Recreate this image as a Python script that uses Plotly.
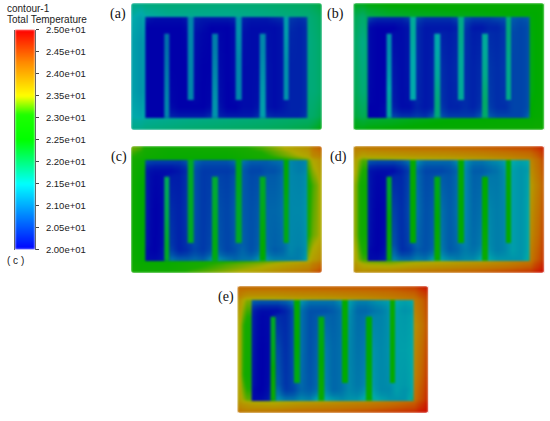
import plotly.graph_objects as go

WIDTH = 550
HEIGHT = 421

# colour bar
BAR_TICKS = [20.0, 20.5, 21.0, 21.5, 22.0, 22.5, 23.0, 23.5, 24.0, 24.5, 25.0]
BAR_LABELS = ["2.00e+01", "2.05e+01", "2.10e+01", "2.15e+01", "2.20e+01", "2.25e+01",
              "2.30e+01", "2.35e+01", "2.40e+01", "2.45e+01", "2.50e+01"]
BAR_SCALE = [[0, "rgb(0,0,255)"], [0.3, "rgb(0,255,255)"], [0.46, "rgb(0,255,50)"],
             [0.5, "rgb(0,255,0)"], [0.615, "rgb(30,255,0)"], [0.7, "rgb(255,255,0)"],
             [0.85, "rgb(255,140,0)"], [1, "rgb(255,0,0)"]]
# the panels are the same scale, shaded darker by the lighting of the render
PANEL_SCALE = [[0, "rgb(0,0,170)"], [0.3, "rgb(0,170,170)"], [0.46, "rgb(0,170,35)"],
               [0.5, "rgb(0,170,0)"], [0.615, "rgb(25,170,0)"], [0.7, "rgb(175,170,0)"],
               [0.85, "rgb(195,105,0)"], [1, "rgb(205,15,0)"]]

# cell edges, plate pixels from the top left corner
PLATE_X = [0, 5, 14, 60, 130, 177, 186, 191]
PLATE_Y = [0, 5, 14, 64, 113, 122, 127]
CHANNEL_X = [14.3, 18.5, 29, 36, 43, 52.5, 59.7, 67, 76.5, 83.8, 91, 100.5, 107.7,
             115, 124.5, 131.5, 138.5, 148.5, 155.3, 162, 172, 176]
CHANNEL_Y = [14, 19, 30, 98, 109, 114.7]
RIB_X = [[33.3, 38.7], [56.7, 62.7], [81, 86.7], [104.7, 110.7], [128.7, 134.3], [152.7, 158]]
RIB_Y = [[30.7, 60, 85, 114.7], [14, 45, 70, 97.3]]

PANELS = ["(a)", "(b)", "(c)", "(d)", "(e)"]

plate_a = [[21.7, 21.7, 21.8, 21.8, 21.9, 22.0, 22.1],
           [21.6, 21.5, 21.7, 21.7, 21.8, 21.9, 22.0],
           [21.4, 21.3, 21.5, 21.6, 21.7, 21.8, 21.9],
           [21.4, 21.3, 21.5, 21.6, 21.8, 21.8, 21.9],
           [21.6, 21.6, 21.7, 21.8, 21.9, 22.0, 22.2],
           [21.7, 21.7, 21.8, 21.9, 22.0, 22.2, 22.4]]
plate_b = [[22.3, 22.3, 22.5, 22.6, 22.6, 22.6, 22.6],
           [22.1, 22.0, 22.3, 22.4, 22.5, 22.5, 22.6],
           [21.9, 21.7, 22.0, 22.2, 22.3, 22.5, 22.6],
           [22.0, 21.8, 22.0, 22.2, 22.3, 22.5, 22.6],
           [22.3, 22.2, 22.3, 22.5, 22.6, 22.7, 22.7],
           [22.4, 22.4, 22.5, 22.6, 22.7, 22.8, 22.8]]
plate_c = [[23.3, 23.2, 22.8, 22.9, 23.5, 24.1, 24.3],
           [23.1, 23.0, 22.7, 22.7, 23.3, 23.9, 24.0],
           [22.8, 22.5, 22.5, 22.5, 22.7, 23.2, 23.5],
           [22.7, 22.5, 22.5, 22.6, 22.8, 23.3, 23.5],
           [22.8, 22.7, 22.7, 23.2, 23.6, 24.0, 24.2],
           [22.9, 22.8, 22.9, 23.4, 23.9, 24.3, 24.5]]
plate_d = [[24.0, 24.0, 24.1, 24.2, 24.4, 24.6, 24.8],
           [23.8, 23.6, 23.7, 23.8, 24.0, 24.3, 24.6],
           [23.4, 22.8, 22.9, 23.1, 23.4, 23.9, 24.3],
           [23.4, 22.8, 22.9, 23.1, 23.6, 24.1, 24.5],
           [23.7, 23.5, 23.4, 23.7, 24.0, 24.5, 24.8],
           [23.9, 23.8, 23.9, 24.2, 24.5, 24.8, 25.0]]
plate_e = [[24.2, 24.2, 24.2, 24.3, 24.4, 24.7, 24.9],
           [24.0, 23.8, 23.8, 23.9, 24.1, 24.4, 24.6],
           [23.5, 22.9, 23.0, 23.2, 23.6, 24.0, 24.4],
           [23.5, 22.8, 23.0, 23.2, 23.7, 24.2, 24.6],
           [23.8, 23.7, 23.6, 23.9, 24.2, 24.6, 24.9],
           [24.1, 24.0, 24.1, 24.3, 24.6, 24.9, 25.0]]

# seven legs of three cells each, five rows from the top
channel_a = [[20.2, 20.1, 20.1, 20.1, 20.1, 20.2, 20.3, 20.2, 20.2, 20.2, 20.2, 20.3, 20.3, 20.2, 20.2, 20.2, 20.3, 20.4, 20.5, 20.4, 20.5],
             [20.0, 20.0, 20.0, 20.0, 20.0, 20.1, 20.2, 20.1, 20.0, 20.0, 20.0, 20.1, 20.2, 20.1, 20.1, 20.1, 20.1, 20.2, 20.4, 20.3, 20.4],
             [20.0, 20.0, 20.0, 20.0, 20.0, 20.0, 20.1, 20.0, 20.0, 20.1, 20.0, 20.1, 20.1, 20.1, 20.1, 20.2, 20.1, 20.2, 20.3, 20.3, 20.4],
             [20.0, 20.0, 20.0, 20.1, 20.0, 20.0, 20.0, 20.0, 20.1, 20.2, 20.0, 20.0, 20.1, 20.1, 20.2, 20.2, 20.1, 20.2, 20.3, 20.3, 20.4],
             [20.0, 20.0, 20.0, 20.3, 20.2, 20.2, 20.2, 20.2, 20.4, 20.3, 20.2, 20.2, 20.2, 20.2, 20.4, 20.4, 20.3, 20.3, 20.3, 20.3, 20.5]]
channel_b = [[20.5, 20.3, 20.3, 20.3, 20.3, 20.5, 20.6, 20.4, 20.4, 20.4, 20.4, 20.6, 20.7, 20.5, 20.5, 20.5, 20.6, 20.7, 20.8, 20.7, 20.8],
             [20.1, 20.0, 20.0, 20.0, 20.1, 20.2, 20.4, 20.2, 20.2, 20.2, 20.2, 20.3, 20.5, 20.2, 20.2, 20.3, 20.3, 20.5, 20.7, 20.6, 20.7],
             [20.1, 20.0, 20.0, 20.2, 20.1, 20.2, 20.4, 20.2, 20.3, 20.4, 20.3, 20.4, 20.4, 20.3, 20.4, 20.5, 20.4, 20.5, 20.6, 20.6, 20.7],
             [20.0, 20.0, 20.1, 20.3, 20.1, 20.1, 20.3, 20.2, 20.3, 20.5, 20.3, 20.3, 20.4, 20.3, 20.5, 20.6, 20.4, 20.4, 20.6, 20.6, 20.7],
             [20.0, 20.0, 20.1, 20.6, 20.4, 20.4, 20.5, 20.4, 20.8, 20.7, 20.5, 20.5, 20.5, 20.5, 20.8, 20.8, 20.6, 20.6, 20.6, 20.6, 20.9]]
channel_c = [[20.6, 20.5, 20.5, 20.5, 20.5, 20.7, 20.9, 20.7, 20.7, 20.7, 20.7, 20.9, 21.0, 20.8, 20.8, 20.8, 20.9, 21.0, 21.2, 21.1, 21.2],
             [20.2, 20.1, 20.1, 20.1, 20.2, 20.4, 20.7, 20.5, 20.5, 20.5, 20.5, 20.6, 20.8, 20.6, 20.6, 20.7, 20.7, 20.9, 21.2, 21.1, 21.2],
             [20.2, 20.0, 20.1, 20.4, 20.3, 20.5, 20.7, 20.5, 20.6, 20.7, 20.6, 20.8, 20.8, 20.7, 20.8, 20.9, 20.9, 21.0, 21.2, 21.2, 21.3],
             [20.1, 20.0, 20.2, 20.6, 20.3, 20.4, 20.6, 20.5, 20.7, 20.8, 20.6, 20.7, 20.9, 20.7, 20.9, 21.0, 20.8, 20.9, 21.2, 21.1, 21.3],
             [20.1, 20.1, 20.2, 21.0, 20.8, 20.8, 20.9, 20.8, 21.2, 21.2, 21.0, 20.9, 21.0, 21.0, 21.3, 21.3, 21.1, 21.1, 21.1, 21.1, 21.4]]
channel_d = [[20.7, 20.6, 20.6, 20.6, 20.7, 21.0, 21.2, 20.9, 20.9, 20.9, 20.9, 21.2, 21.3, 21.0, 21.0, 21.1, 21.2, 21.4, 21.5, 21.4, 21.5],
             [20.2, 20.1, 20.1, 20.1, 20.3, 20.6, 20.9, 20.6, 20.6, 20.6, 20.7, 20.9, 21.2, 20.8, 20.8, 20.9, 21.0, 21.3, 21.4, 21.3, 21.4],
             [20.2, 20.0, 20.1, 20.6, 20.4, 20.7, 21.0, 20.7, 20.8, 21.0, 20.8, 21.0, 21.2, 20.9, 21.0, 21.2, 21.1, 21.2, 21.4, 21.3, 21.5],
             [20.1, 20.0, 20.2, 20.9, 20.4, 20.5, 20.8, 20.7, 20.9, 21.1, 20.8, 20.9, 21.1, 21.0, 21.2, 21.3, 21.1, 21.2, 21.4, 21.3, 21.5],
             [20.1, 20.1, 20.3, 21.2, 20.9, 20.9, 21.1, 21.0, 21.4, 21.4, 21.2, 21.1, 21.2, 21.2, 21.5, 21.5, 21.3, 21.3, 21.3, 21.3, 21.6]]
channel_e = [[20.8, 20.7, 20.7, 20.7, 20.8, 21.1, 21.3, 21.0, 21.0, 21.0, 21.0, 21.3, 21.4, 21.1, 21.1, 21.2, 21.3, 21.4, 21.5, 21.4, 21.5],
             [20.3, 20.1, 20.1, 20.1, 20.3, 20.7, 21.0, 20.7, 20.7, 20.7, 20.8, 21.0, 21.3, 20.9, 20.9, 21.0, 21.1, 21.3, 21.4, 21.3, 21.4],
             [20.2, 20.0, 20.1, 20.7, 20.4, 20.7, 21.0, 20.7, 20.9, 21.1, 20.9, 21.0, 21.2, 21.0, 21.1, 21.3, 21.2, 21.3, 21.4, 21.4, 21.5],
             [20.1, 20.0, 20.2, 21.0, 20.5, 20.6, 20.9, 20.8, 21.0, 21.2, 20.9, 21.0, 21.2, 21.1, 21.3, 21.4, 21.2, 21.2, 21.4, 21.3, 21.5],
             [20.1, 20.1, 20.3, 21.3, 21.0, 21.0, 21.2, 21.1, 21.5, 21.5, 21.3, 21.2, 21.3, 21.3, 21.6, 21.6, 21.4, 21.3, 21.3, 21.3, 21.7]]

# six ribs between the legs, three values along each
ribs_a = [[21.0, 21.1, 21.2], [21.2, 21.2, 21.2], [21.1, 21.2, 21.3], [21.3, 21.2, 21.2], [21.2, 21.3, 21.4], [21.4, 21.3, 21.3]]
ribs_b = [[21.3, 21.4, 21.6], [21.6, 21.5, 21.5], [21.5, 21.6, 21.8], [21.7, 21.6, 21.6], [21.6, 21.7, 21.9], [21.8, 21.7, 21.7]]
ribs_c = [[22.0, 22.1, 22.3], [22.3, 22.3, 22.3], [22.2, 22.3, 22.4], [22.4, 22.3, 22.3], [22.3, 22.4, 22.5], [22.5, 22.4, 22.4]]
ribs_d = [[22.3, 22.5, 22.7], [22.6, 22.5, 22.5], [22.4, 22.5, 22.7], [22.6, 22.5, 22.5], [22.5, 22.5, 22.7], [22.7, 22.6, 22.6]]
ribs_e = [[22.3, 22.4, 22.7], [22.6, 22.5, 22.4], [22.4, 22.5, 22.7], [22.6, 22.5, 22.5], [22.5, 22.5, 22.7], [22.7, 22.6, 22.6]]

PLATES = [plate_a, plate_b, plate_c, plate_d, plate_e]
CHANNELS = [channel_a, channel_b, channel_c, channel_d, channel_e]
RIBS = [ribs_a, ribs_b, ribs_c, ribs_d, ribs_e]

# left, top of each plate in the page, and where its letter sits
PANEL_POS = [(131, 3), (353.3, 3), (131, 146), (353.3, 146), (237.3, 286)]
LABEL_POS = [(118, 14), (335, 14), (119, 157), (338, 157), (226, 297)]
PLATE_W = 191
PLATE_H = 127


def dominio_x(izq, der):
    return [izq / WIDTH, der / WIDTH]


def dominio_y(arriba, abajo):
    return [1 - abajo / HEIGHT, 1 - arriba / HEIGHT]


def esquinas(r):
    # white frame with a rounded hole, to round off the plate corners
    w, h = PLATE_W, PLATE_H
    return (f"M0,0H{w}V{h}H0Z M{r},0H{w-r}Q{w},0 {w},{r}V{h-r}Q{w},{h} {w-r},{h}"
            f"H{r}Q0,{h} 0,{h-r}V{r}Q0,0 {r},0Z")


fig = go.Figure()
layout = {}
shapes = []

for i, nombre in enumerate(PANELS):
    n = i + 1
    xa, ya = f"x{n}", f"y{n}"
    comun = dict(xaxis=xa, yaxis=ya, coloraxis="coloraxis", zsmooth="best", hoverinfo="skip")

    fig.add_trace(go.Heatmap(x=PLATE_X, y=PLATE_Y, z=PLATES[i], **comun))
    fig.add_trace(go.Heatmap(x=CHANNEL_X, y=CHANNEL_Y, z=CHANNELS[i], **comun))
    for j, rib in enumerate(RIBS[i]):
        x0, x1 = RIB_X[j]
        fig.add_trace(go.Heatmap(x=[x0, (x0 + x1) / 2, x1], y=RIB_Y[j % 2],
                                 z=[[v, v] for v in rib], **comun))

    izq, arriba = PANEL_POS[i]
    layout[f"xaxis{n}"] = dict(domain=dominio_x(izq, izq + PLATE_W), range=[0, PLATE_W],
                               visible=False, anchor=ya, automargin=False)
    layout[f"yaxis{n}"] = dict(domain=dominio_y(arriba, arriba + PLATE_H), range=[PLATE_H, 0],
                               visible=False, anchor=xa, automargin=False)
    shapes.append(dict(type="path", path=esquinas(3), xref=xa, yref=ya, fillcolor="white",
                       fillrule="evenodd", line_width=0, layer="above"))

# colour bar as its own small axes
fig.add_trace(go.Heatmap(x=[0, 1], y=BAR_TICKS, z=[[v, v] for v in BAR_TICKS],
                         xaxis="x6", yaxis="y6", coloraxis="coloraxis2", zsmooth="best",
                         hoverinfo="skip"))
layout["xaxis6"] = dict(domain=dominio_x(15, 35), range=[0, 1], visible=False, anchor="y6",
                        automargin=False)
layout["yaxis6"] = dict(domain=dominio_y(29.5, 249.5), range=[20, 25], anchor="x6", side="right",
                        tickmode="array", tickvals=BAR_TICKS, ticktext=BAR_LABELS,
                        ticks="outside", ticklen=3, tickwidth=1, tickcolor="#444",
                        ticklabelstandoff=5, automargin=False,
                        tickfont=dict(family="Liberation Sans", size=9.5, color="#222"),
                        showgrid=False, zeroline=False, showline=True, linecolor="#666",
                        linewidth=1, mirror=True)

anotaciones = []
for nombre, (x, y) in zip(PANELS, LABEL_POS):
    anotaciones.append(dict(text=nombre, x=x / WIDTH, y=1 - y / HEIGHT, xref="paper", yref="paper",
                            showarrow=False, xanchor="center", yanchor="middle",
                            font=dict(family="Liberation Serif", size=14, color="#111")))
for texto, x, y in [("contour-1", 5, 9), ("Total Temperature", 5, 19), ("( c )", 5, 260)]:
    anotaciones.append(dict(text=texto, x=x / WIDTH, y=1 - y / HEIGHT, xref="paper", yref="paper",
                            showarrow=False, xanchor="left", yanchor="middle",
                            font=dict(family="Liberation Sans", size=10, color="#222")))

fig.update_layout(
    width=WIDTH, height=HEIGHT, margin=dict(l=0, r=0, t=0, b=0),
    paper_bgcolor="white", plot_bgcolor="white", showlegend=False,
    coloraxis=dict(colorscale=PANEL_SCALE, cmin=20, cmax=25, showscale=False),
    coloraxis2=dict(colorscale=BAR_SCALE, cmin=20, cmax=25, showscale=False),
    shapes=shapes, annotations=anotaciones, **layout,
)

# page margin off, and the slight softness of the rendered contours
ajuste = ("document.body.style.margin='0';document.body.style.overflow='hidden';"
          "document.querySelectorAll('.heatmaplayer').forEach(function(g){g.style.filter='blur(0.9px)';});")
fig.write_html("out.html", config={"displayModeBar": False}, post_script=ajuste)
